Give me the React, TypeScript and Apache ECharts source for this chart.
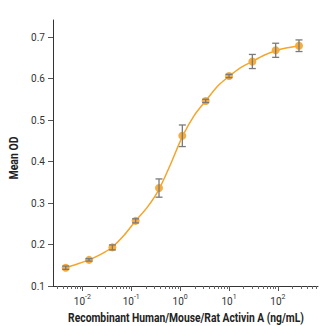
import React, { useEffect, useRef } from "react";
import * as echarts from "echarts";

// Concentrations (ng/mL), 1:3 serial dilution from 270
const concentrations = [0.00457, 0.0137, 0.0412, 0.123, 0.37, 1.11, 3.33, 10, 30, 90, 270];
const meanOD = [0.144, 0.163, 0.193, 0.257, 0.336, 0.462, 0.546, 0.606, 0.641, 0.668, 0.679];
const errOD = [0.004, 0.003, 0.006, 0.005, 0.022, 0.026, 0.004, 0.004, 0.017, 0.017, 0.014];
// Fitted curve
const fitConc = [0.00457, 0.0079, 0.0137, 0.0238, 0.0412, 0.0713, 0.123, 0.214, 0.37, 0.641, 1.11, 1.92, 3.33, 5.77, 10, 17.3, 30, 52, 90, 156, 270];
const fitOD = [0.144, 0.153, 0.163, 0.176, 0.194, 0.222, 0.257, 0.29, 0.333, 0.394, 0.46, 0.51, 0.546, 0.581, 0.605, 0.626, 0.641, 0.656, 0.667, 0.674, 0.679];
const yTicks = [0.1, 0.2, 0.3, 0.4, 0.5, 0.6, 0.7];
const xDecades = [-2, -1, 0, 1, 2];

const FONT = "Roboto, 'Noto Sans', sans-serif";
const X_TITLE = "Recombinant Human/Mouse/Rat Activin A (ng/mL)";
const Y_TITLE = "Mean OD";

function measure(text: string, font: string): number {
  const c = document.createElement("canvas").getContext("2d");
  if (!c) return text.length * 7;
  c.font = font;
  return c.measureText(text).width;
}

export default function App() {
  const ref = useRef<HTMLDivElement>(null);
  useEffect(() => {
    if (!ref.current) return;
    const chart = echarts.init(ref.current, undefined, { renderer: "svg" });
    const xMin = -2.6;
    const xMax = 2.82;
    const minorTicks: number[] = [];
    for (let d = -3; d <= 2; d++) {
      for (let k = 2; k <= 9; k++) {
        const v = d + Math.log10(k);
        if (v > xMin && v < xMax) minorTicks.push(v);
      }
    }
    const titleFont = "bold 13px Roboto";
    const xScale = 236 / measure(X_TITLE, titleFont);
    const yScale = 43 / measure(Y_TITLE, titleFont);
    const logX = concentrations.map((c) => Math.log10(c));
    chart.setOption({
      animation: false,
      grid: { left: 53, right: 4, top: 20, bottom: 40 },
      xAxis: [
        {
          type: "value",
          min: xMin,
          max: xMax,
          splitLine: { show: false },
          axisLine: { onZero: false, lineStyle: { color: "#333", width: 1 } },
          axisTick: { show: true, length: 5, customValues: xDecades, lineStyle: { color: "#555" } },
          axisLabel: {
            customValues: xDecades,
            margin: 7,
            formatter: (v: number) => `{b|10}{s|${Math.round(v)}}`,
            rich: {
              b: { fontFamily: FONT, fontSize: 10, color: "#333", lineHeight: 13, verticalAlign: "bottom" },
              s: { fontFamily: FONT, fontSize: 7, color: "#333", lineHeight: 13, verticalAlign: "top" },
            },
          },
        },
        {
          type: "value",
          min: xMin,
          max: xMax,
          position: "bottom",
          splitLine: { show: false },
          axisLine: { show: false, onZero: false },
          axisTick: { show: true, length: 3, customValues: minorTicks, lineStyle: { color: "#666" } },
          axisLabel: { show: false },
        },
      ],
      yAxis: {
        type: "value",
        min: 0.1,
        max: 0.741,
        splitLine: { show: false },
        axisLine: { show: true, onZero: false, lineStyle: { color: "#333", width: 1 } },
        axisTick: { show: true, length: 5, customValues: yTicks, lineStyle: { color: "#555" } },
        axisLabel: {
          customValues: yTicks,
          margin: 8,
          formatter: (v: number) => v.toFixed(1),
          fontFamily: FONT,
          fontSize: 10,
          color: "#333",
        },
      },
      graphic: [
        {
          type: "text",
          x: 186,
          y: 318,
          scaleX: xScale,
          style: {
            text: X_TITLE,
            font: titleFont,
            fill: "#222",
            textAlign: "center",
            textVerticalAlign: "middle",
          },
        },
        {
          type: "text",
          x: 14,
          y: 158,
          rotation: Math.PI / 2,
          scaleX: yScale,
          style: {
            text: Y_TITLE,
            font: titleFont,
            fill: "#222",
            textAlign: "center",
            textVerticalAlign: "middle",
          },
        },
      ],
      series: [
        {
          type: "line",
          xAxisIndex: 0,
          data: fitConc.map((c, i) => [Math.log10(c), fitOD[i]]),
          smooth: 0.3,
          showSymbol: false,
          symbol: "none",
          lineStyle: { color: "#F5A52A", width: 1.5 },
          z: 2,
        },
        {
          type: "scatter",
          xAxisIndex: 0,
          data: logX.map((x, i) => [x, meanOD[i]]),
          symbol: "circle",
          symbolSize: 8,
          itemStyle: { color: "#F5A936", opacity: 0.95 },
          z: 3,
        },
        {
          type: "custom",
          xAxisIndex: 0,
          z: 4,
          data: logX.map((x, i) => [x, meanOD[i] - errOD[i], meanOD[i] + errOD[i]]),
          renderItem: (params: any, api: any) => {
            const x = api.value(0);
            const lo = api.coord([x, api.value(1)]);
            const hi = api.coord([x, api.value(2)]);
            const hw = 3.5;
            const style = { stroke: "#7a7a7a", lineWidth: 1.3, fill: "none" };
            return {
              type: "group",
              children: [
                { type: "line", shape: { x1: lo[0], y1: lo[1], x2: hi[0], y2: hi[1] }, style },
                { type: "line", shape: { x1: lo[0] - hw, y1: lo[1], x2: lo[0] + hw, y2: lo[1] }, style },
                { type: "line", shape: { x1: hi[0] - hw, y1: hi[1], x2: hi[0] + hw, y2: hi[1] }, style },
              ],
            };
          },
        },
      ],
    });
    return () => chart.dispose();
  }, []);
  return (
    <div
      ref={ref}
      style={{ position: "absolute", left: 0, top: 0, width: 322, height: 326, background: "#fff" }}
    />
  );
}
